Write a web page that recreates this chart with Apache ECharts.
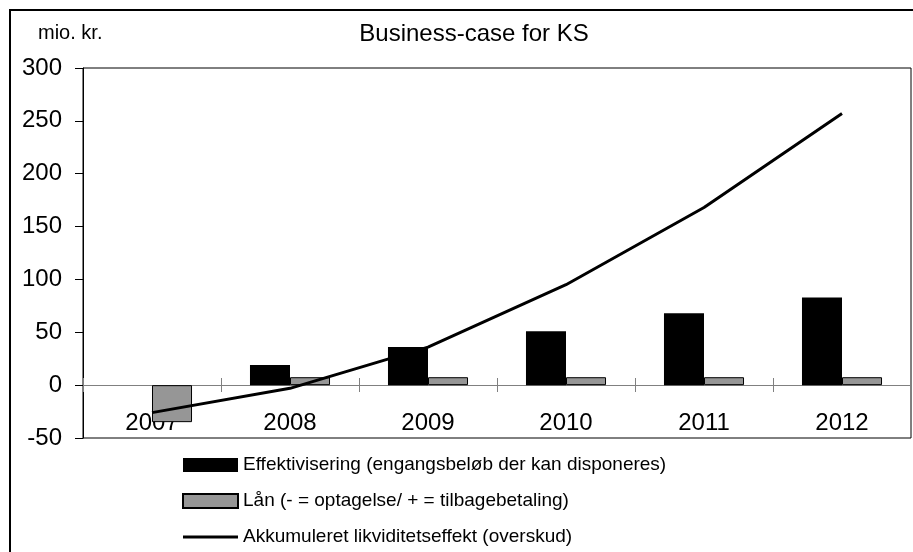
<!DOCTYPE html>
<html>
<head>
<meta charset="utf-8">
<script src="https://cdn.jsdelivr.net/npm/echarts@6/dist/echarts.min.js"></script>
<style>
    html, body { margin: 0; padding: 0; background: #fff; }
    #chart { width: 913px; height: 552px; }
</style>
</head>
<body>
<div id="chart"></div>
<script>
var years = ['2007', '2008', '2009', '2010', '2011', '2012'];
var effektivisering = [0, 19, 36, 51, 68, 83];
var laan = [-35, 7.5, 7.5, 7.5, 7.5, 7.5];
var akkumuleret = [-26, -3, 36, 95, 168, 257];

var font = '"Liberation Sans", Arial, sans-serif';
var myChart = echarts.init(document.getElementById('chart'));

// the category axis sits at y = 0, i.e. 53px above the bottom of the plot
var zeroOffset = -53;

var option = {
    animation: false,
    textStyle: { fontFamily: font, color: '#000' },
    title: {
        text: 'Business-case for KS',
        left: 469,
        top: 17,
        textAlign: 'center',
        textStyle: { fontFamily: font, fontSize: 24, fontWeight: 'normal', color: '#000' }
    },
    graphic: [
        {
            type: 'rect',
            shape: { x: 10, y: 10, width: 930, height: 580 },
            style: { fill: 'none', stroke: '#000', lineWidth: 2 },
            silent: true
        },
        {
            type: 'text',
            left: 38,
            top: 23,
            style: { text: 'mio. kr.', font: '20px ' + font, fill: '#000' }
        }
    ],
    legend: {
        orient: 'vertical',
        left: 182,
        top: 455,
        height: 100,
        padding: 0,
        itemWidth: 55,
        itemHeight: 14,
        itemGap: 16,
        textStyle: { fontFamily: font, fontSize: 19, color: '#000', lineHeight: 20 },
        data: [
            { name: 'Effektivisering (engangsbeløb der kan disponeres)', icon: 'rect' },
            { name: 'Lån (- = optagelse/ + = tilbagebetaling)', icon: 'rect' },
            { name: 'Akkumuleret likviditetseffekt (overskud)', icon: 'path://M0,0 L55,0 L55,3 L0,3 Z' }
        ]
    },
    grid: {
        left: 83,
        right: 2,
        top: 68,
        bottom: 114,
        show: true,
        borderColor: '#000',
        borderWidth: 1
    },
    xAxis: [
        {
            type: 'category',
            data: years,
            position: 'bottom',
            offset: zeroOffset,
            axisLine: { onZero: false, lineStyle: { color: '#808080', width: 1 } },
            axisTick: { show: true, length: 7, lineStyle: { color: '#808080' } },
            axisLabel: { margin: 26, fontSize: 24, color: '#000', fontFamily: font }
        },
        {
            type: 'category',
            data: years,
            position: 'bottom',
            offset: zeroOffset,
            axisLine: { onZero: false, lineStyle: { color: '#808080', width: 1 } },
            axisTick: { show: true, inside: true, length: 7, lineStyle: { color: '#808080' } },
            axisLabel: { show: false }
        }
    ],
    yAxis: {
        type: 'value',
        min: -50,
        max: 300,
        interval: 50,
        axisLine: { show: true, lineStyle: { color: '#000', width: 1 } },
        axisTick: { show: true, length: 8, lineStyle: { color: '#000' } },
        axisLabel: { margin: 21, fontSize: 24, color: '#000', fontFamily: font },
        splitLine: { show: false }
    },
    series: [
        {
            name: 'Effektivisering (engangsbeløb der kan disponeres)',
            type: 'bar',
            data: effektivisering,
            barGap: '0%',
            barCategoryGap: '42%',
            itemStyle: { color: '#000' }
        },
        {
            name: 'Lån (- = optagelse/ + = tilbagebetaling)',
            type: 'bar',
            data: laan,
            itemStyle: { color: '#969696', borderColor: '#000', borderWidth: 1 }
        },
        {
            name: 'Akkumuleret likviditetseffekt (overskud)',
            type: 'line',
            data: akkumuleret,
            symbol: 'none',
            z: 5,
            lineStyle: { color: '#000', width: 3 },
            itemStyle: { color: '#000' }
        }
    ]
};

myChart.setOption(option);
</script>
</body>
</html>
